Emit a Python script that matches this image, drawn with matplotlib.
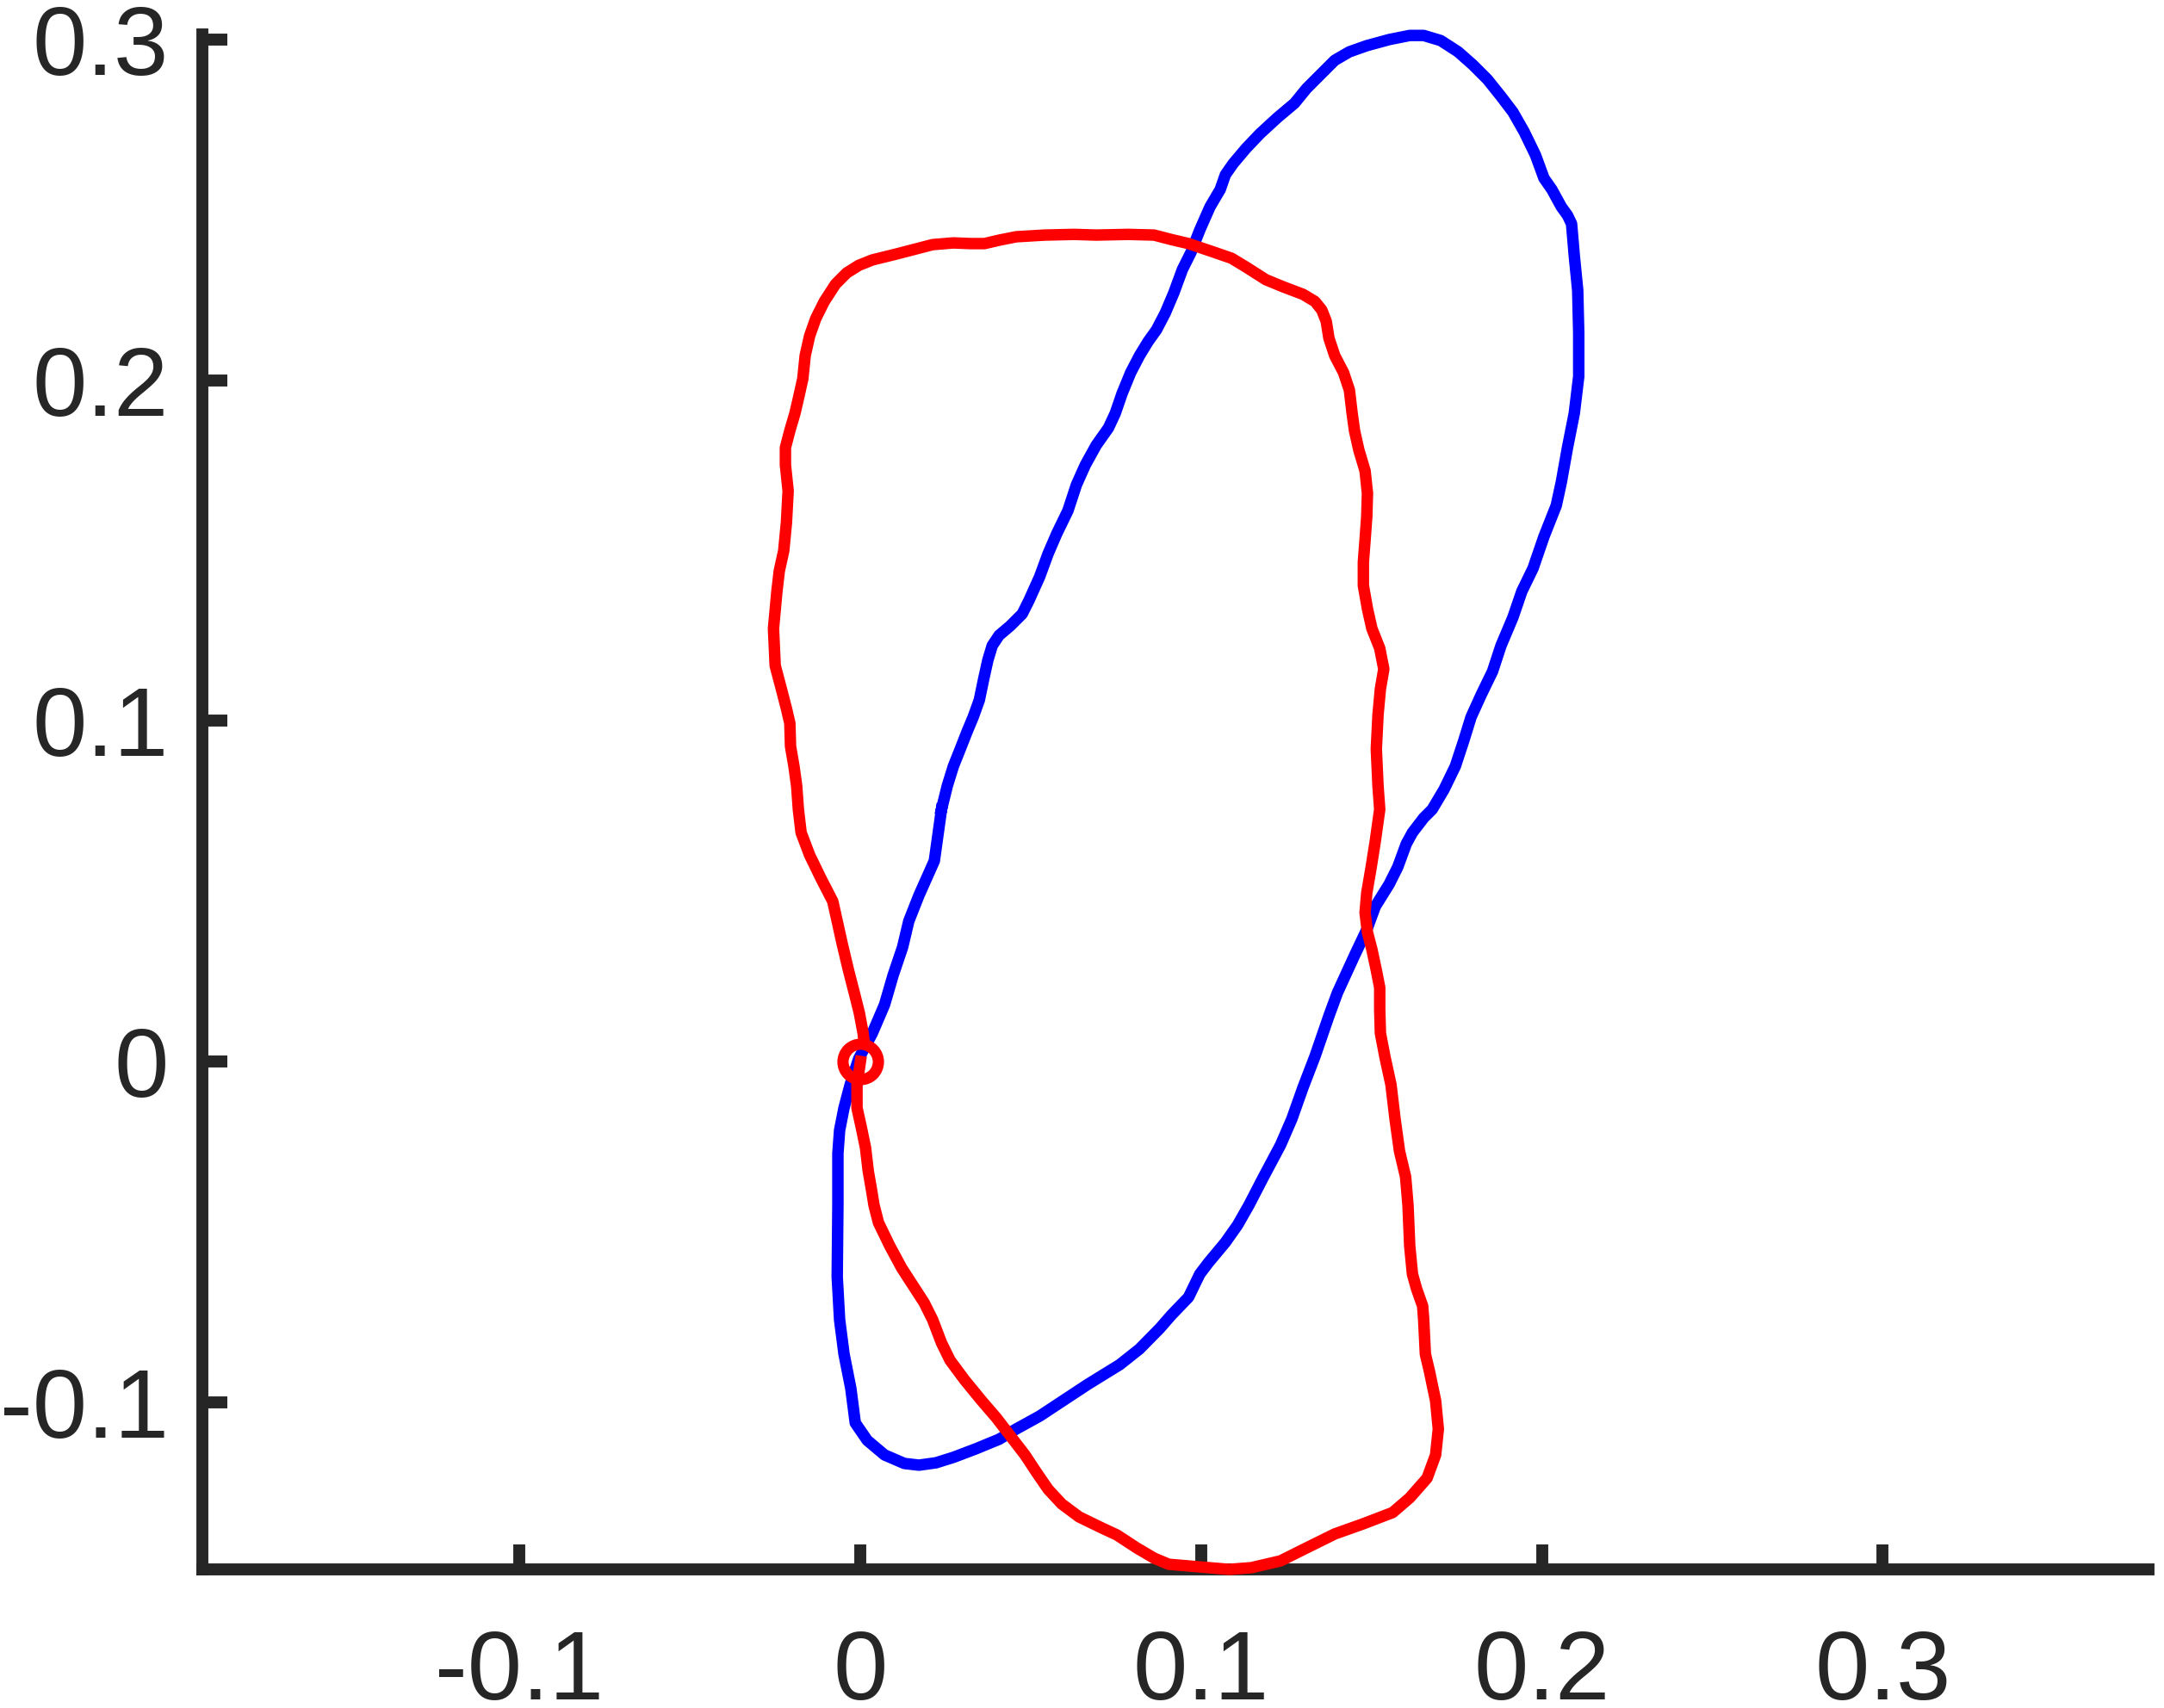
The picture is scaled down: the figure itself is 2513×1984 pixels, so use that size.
import matplotlib.pyplot as plt

# blue loop (x, y)
blue_x = [0.0238, 0.0217, 0.0172, 0.0142, 0.0124, 0.0096, 0.0071, 0.0035, -0.0005, -0.0030,
          -0.0048, -0.0061, -0.0066, -0.0066, -0.0068, -0.0061, -0.0048, -0.0028, -0.0015, 0.0020,
          0.0071, 0.0129, 0.0172, 0.0222, 0.0273, 0.0339, 0.0407, 0.0457, 0.0526, 0.0591,
          0.0667, 0.0761, 0.0819, 0.0879, 0.0912, 0.0963, 0.0996, 0.1021, 0.1071, 0.1107,
          0.1140, 0.1183, 0.1233, 0.1266, 0.1299, 0.1334, 0.1375, 0.1400, 0.1450, 0.1486,
          0.1511, 0.1552, 0.1577, 0.1602, 0.1620, 0.1653, 0.1678, 0.1713, 0.1746, 0.1771,
          0.1792, 0.1822, 0.1855, 0.1880, 0.1915, 0.1941, 0.1974, 0.2006, 0.2042, 0.2057,
          0.2075, 0.2095, 0.2108, 0.2108, 0.2105, 0.2095, 0.2087, 0.2075, 0.2057, 0.2029,
          0.2006, 0.1981, 0.1948, 0.1915, 0.1880, 0.1840, 0.1797, 0.1754, 0.1703, 0.1653,
          0.1612, 0.1552, 0.1486, 0.1435, 0.1392, 0.1349, 0.1309, 0.1274, 0.1223, 0.1173,
          0.1132, 0.1094, 0.1071, 0.1056, 0.1026, 0.0996, 0.0970, 0.0945, 0.0920, 0.0895,
          0.0869, 0.0844, 0.0819, 0.0793, 0.0768, 0.0748, 0.0728, 0.0692, 0.0660, 0.0634,
          0.0609, 0.0576, 0.0551, 0.0526, 0.0495, 0.0475, 0.0440, 0.0407, 0.0387, 0.0374,
          0.0361, 0.0349, 0.0331, 0.0313, 0.0293, 0.0273, 0.0255, 0.0238]
blue_y = [0.0740, 0.0589, 0.0488, 0.0412, 0.0336, 0.0253, 0.0167, 0.0083, 0.0008, -0.0068,
          -0.0136, -0.0202, -0.0270, -0.0422, -0.0632, -0.0758, -0.0859, -0.0960, -0.1061, -0.1112,
          -0.1155, -0.1180, -0.1185, -0.1178, -0.1162, -0.1137, -0.1109, -0.1079, -0.1041, -0.0998,
          -0.0948, -0.0890, -0.0844, -0.0783, -0.0745, -0.0692, -0.0624, -0.0591, -0.0531, -0.0480,
          -0.0422, -0.0339, -0.0245, -0.0169, -0.0076, 0.0015, 0.0134, 0.0202, 0.0311, 0.0387,
          0.0455, 0.0521, 0.0571, 0.0639, 0.0672, 0.0715, 0.0740, 0.0799, 0.0867, 0.0943,
          0.1011, 0.1077, 0.1145, 0.1221, 0.1304, 0.1380, 0.1448, 0.1541, 0.1632, 0.1701,
          0.1802, 0.1903, 0.2011, 0.2138, 0.2264, 0.2365, 0.2459, 0.2484, 0.2509, 0.2560,
          0.2593, 0.2661, 0.2729, 0.2787, 0.2833, 0.2883, 0.2926, 0.2964, 0.2997, 0.3012,
          0.3012, 0.3000, 0.2982, 0.2964, 0.2939, 0.2896, 0.2856, 0.2813, 0.2770, 0.2724,
          0.2681, 0.2636, 0.2603, 0.2560, 0.2509, 0.2441, 0.2375, 0.2325, 0.2257, 0.2198,
          0.2148, 0.2113, 0.2072, 0.2022, 0.1961, 0.1903, 0.1860, 0.1809, 0.1751, 0.1693,
          0.1617, 0.1549, 0.1491, 0.1423, 0.1354, 0.1314, 0.1279, 0.1251, 0.1221, 0.1178,
          0.1119, 0.1061, 0.1011, 0.0968, 0.0917, 0.0867, 0.0809, 0.0740]

# red loop (x, y), starts at the origin
red_x = [0.0000, -0.0010, -0.0010, 0.0003, 0.0015, 0.0023, 0.0033, 0.0040, 0.0053, 0.0086,
         0.0121, 0.0154, 0.0187, 0.0212, 0.0238, 0.0263, 0.0306, 0.0356, 0.0399, 0.0440,
         0.0483, 0.0516, 0.0551, 0.0591, 0.0642, 0.0710, 0.0753, 0.0811, 0.0862, 0.0905,
         0.0963, 0.1082, 0.1147, 0.1233, 0.1299, 0.1392, 0.1476, 0.1562, 0.1612, 0.1663,
         0.1688, 0.1696, 0.1688, 0.1670, 0.1658, 0.1653, 0.1650, 0.1632, 0.1620, 0.1612,
         0.1607, 0.1600, 0.1582, 0.1569, 0.1557, 0.1539, 0.1526, 0.1524, 0.1524, 0.1514,
         0.1501, 0.1488, 0.1481, 0.1486, 0.1499, 0.1511, 0.1524, 0.1519, 0.1514, 0.1519,
         0.1526, 0.1536, 0.1524, 0.1501, 0.1488, 0.1476, 0.1476, 0.1481, 0.1486, 0.1488,
         0.1481, 0.1463, 0.1450, 0.1443, 0.1435, 0.1418, 0.1392, 0.1375, 0.1367, 0.1354,
         0.1334, 0.1299, 0.1241, 0.1190, 0.1132, 0.1089, 0.1031, 0.0963, 0.0912, 0.0862,
         0.0786, 0.0692, 0.0627, 0.0541, 0.0457, 0.0407, 0.0364, 0.0323, 0.0273, 0.0212,
         0.0154, 0.0104, 0.0035, -0.0005, -0.0040, -0.0073, -0.0106, -0.0131, -0.0149, -0.0162,
         -0.0169, -0.0182, -0.0192, -0.0207, -0.0220, -0.0220, -0.0212, -0.0217, -0.0225, -0.0238,
         -0.0245, -0.0255, -0.0250, -0.0232, -0.0217, -0.0207, -0.0205, -0.0195, -0.0187, -0.0182,
         -0.0174, -0.0149, -0.0116, -0.0081, -0.0068, -0.0053, -0.0035, -0.0018, -0.0003, 0.0008,
         0.0010]
red_y = [0.0000, -0.0068, -0.0136, -0.0195, -0.0253, -0.0321, -0.0379, -0.0422, -0.0473, -0.0541,
         -0.0606, -0.0657, -0.0708, -0.0758, -0.0826, -0.0877, -0.0935, -0.0996, -0.1046, -0.1099,
         -0.1155, -0.1205, -0.1256, -0.1299, -0.1337, -0.1370, -0.1390, -0.1428, -0.1458, -0.1476,
         -0.1481, -0.1491, -0.1486, -0.1466, -0.1433, -0.1387, -0.1357, -0.1324, -0.1281, -0.1223,
         -0.1155, -0.1079, -0.0996, -0.0910, -0.0859, -0.0758, -0.0718, -0.0667, -0.0624, -0.0541,
         -0.0422, -0.0339, -0.0263, -0.0169, -0.0068, 0.0015, 0.0083, 0.0152, 0.0217, 0.0268,
         0.0329, 0.0379, 0.0437, 0.0495, 0.0571, 0.0647, 0.0740, 0.0809, 0.0917, 0.1018,
         0.1094, 0.1152, 0.1213, 0.1271, 0.1329, 0.1397, 0.1466, 0.1531, 0.1600, 0.1668,
         0.1734, 0.1794, 0.1852, 0.1903, 0.1971, 0.2022, 0.2072, 0.2123, 0.2173, 0.2206,
         0.2231, 0.2252, 0.2274, 0.2295, 0.2332, 0.2358, 0.2378, 0.2401, 0.2413, 0.2426,
         0.2428, 0.2426, 0.2428, 0.2426, 0.2421, 0.2411, 0.2401, 0.2401, 0.2403, 0.2398,
         0.2383, 0.2370, 0.2353, 0.2337, 0.2315, 0.2282, 0.2231, 0.2181, 0.2130, 0.2072,
         0.2004, 0.1946, 0.1903, 0.1852, 0.1802, 0.1751, 0.1675, 0.1582, 0.1499, 0.1440,
         0.1380, 0.1271, 0.1162, 0.1094, 0.1036, 0.0993, 0.0925, 0.0867, 0.0809, 0.0740,
         0.0672, 0.0606, 0.0538, 0.0470, 0.0412, 0.0344, 0.0268, 0.0202, 0.0142, 0.0083,
         0.0066]

start_point = (0.0, 0.0)

x_ticks = [-0.1, 0, 0.1, 0.2, 0.3]
x_tick_labels = ["-0.1", "0", "0.1", "0.2", "0.3"]
y_ticks = [-0.1, 0, 0.1, 0.2, 0.3]
y_tick_labels = ["-0.1", "0", "0.1", "0.2", "0.3"]

# limits trimmed a little, the projecting spine caps add the rest
x_limits = (-0.1931, 0.3780)
y_limits = (-0.1491, 0.3015)

axis_color = "#262626"

plt.rcParams["font.family"] = ["Liberation Sans", "DejaVu Sans"]

fig = plt.figure(figsize=(12.565, 9.92), dpi=200)
ax = fig.add_axes([235 / 2513, 161 / 1984, 2260 / 2513, 1783 / 1984])

# curves may poke past the axes box a bit, as in the original
ax.plot(blue_x, blue_y, color="#0000ff", linewidth=4.8, solid_joinstyle="round",
        clip_on=False, zorder=2)
ax.plot(red_x, red_y, color="#ff0000", linewidth=4.8, solid_joinstyle="round",
        clip_on=False, zorder=3)
ax.plot(start_point[0], start_point[1], marker="o", markersize=14.8, markeredgewidth=4.7,
        markerfacecolor="none", markeredgecolor="#ff0000", linestyle="", clip_on=False, zorder=4)

ax.set_xlim(*x_limits)
ax.set_ylim(*y_limits)

ax.set_xticks(x_ticks)
ax.set_xticklabels(x_tick_labels)
ax.set_yticks(y_ticks)
ax.set_yticklabels(y_tick_labels)

for side in ["top", "right"]:
    ax.spines[side].set_visible(False)
for side in ["left", "bottom"]:
    ax.spines[side].set_linewidth(5.0)
    ax.spines[side].set_color(axis_color)
    ax.spines[side].set_capstyle("projecting")

ax.tick_params(axis="both", direction="in", length=10.4, width=5.0, color=axis_color,
               labelcolor=axis_color, labelsize=41)
ax.tick_params(axis="x", pad=25)
ax.tick_params(axis="y", pad=14)

fig.savefig("out.png", dpi=200, facecolor="white")
